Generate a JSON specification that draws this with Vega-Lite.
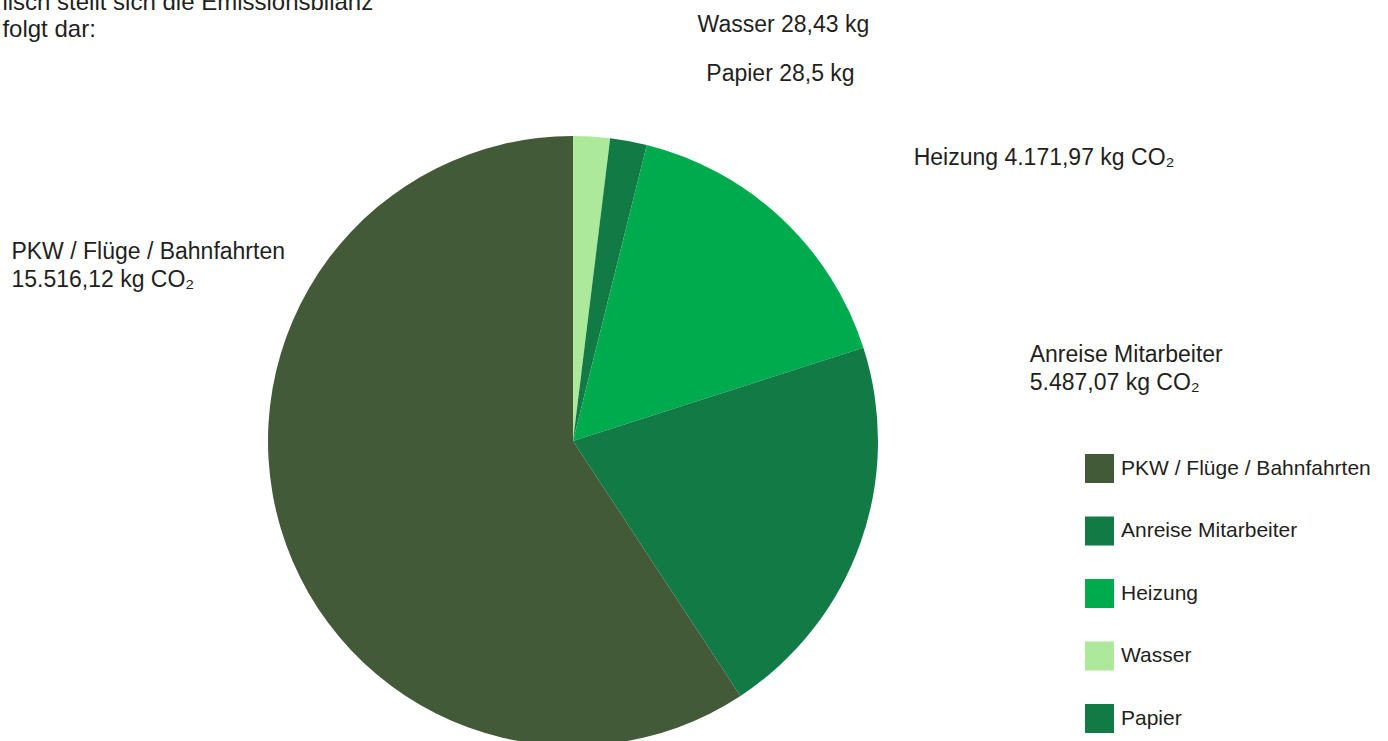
{
  "$schema": "https://vega.github.io/schema/vega-lite/v6.json",
  "width": 610,
  "height": 610,
  "autosize": {"type": "none"},
  "padding": {"left": 268, "top": 136, "right": 510, "bottom": 0},
  "background": "white",
  "config": {"view": {"stroke": null}, "font": "Liberation Sans"},
  "data": {
    "values": [
      {"category": "Wasser", "share": 7.0, "order": 1, "label": "Wasser 28,43 kg"},
      {"category": "Papier", "share": 7.0, "order": 2, "label": "Papier 28,5 kg"},
      {"category": "Heizung", "share": 58.2, "order": 3, "label": "Heizung 4.171,97 kg CO₂"},
      {"category": "Anreise Mitarbeiter", "share": 74.5, "order": 4, "label": "Anreise Mitarbeiter\n5.487,07 kg CO₂"},
      {"category": "PKW / Flüge / Bahnfahrten", "share": 213.3, "order": 5, "label": "PKW / Flüge / Bahnfahrten\n15.516,12 kg CO₂", "intro": "lisch stellt sich die Emissionsbilanz\nfolgt dar:"}
    ]
  },
  "encoding": {
    "theta": {"field": "share", "type": "quantitative", "stack": true},
    "order": {"field": "order", "type": "quantitative"}
  },
  "layer": [
    {
      "mark": {"type": "arc"},
      "encoding": {
        "color": {
          "field": "category",
          "type": "nominal",
          "scale": {
            "domain": ["PKW / Flüge / Bahnfahrten", "Anreise Mitarbeiter", "Heizung", "Wasser", "Papier"],
            "range": ["#435a38", "#127a44", "#00ab4e", "#ade99a", "#127a44"]
          },
          "legend": {
            "title": null,
            "orient": "none",
            "legendX": 817,
            "legendY": 318,
            "direction": "vertical",
            "symbolType": "square",
            "symbolSize": 841,
            "symbolStrokeWidth": 0,
            "symbolOpacity": 1,
            "labelFontSize": 21,
            "labelFont": "Liberation Sans",
            "labelColor": "#231f20",
            "labelOffset": 7,
            "labelLimit": 400,
            "rowPadding": 33.5
          }
        }
      }
    },
    {
      "mark": {"type": "text", "radius": 320, "align": "left", "baseline": "alphabetic", "dx": -264, "dy": -523, "fontSize": 24, "font": "Liberation Sans", "color": "#231f20", "lineBreak": "\n", "lineHeight": 27},
      "encoding": {"text": {"condition": {"test": "datum.category === 'PKW / Flüge / Bahnfahrten'", "field": "intro"}, "value": ""}}
    },
    {
      "mark": {"type": "text", "radius": 320, "align": "left", "baseline": "alphabetic", "dx": 105, "dy": -90, "fontSize": 23, "font": "Liberation Sans", "color": "#231f20", "lineBreak": "\n", "lineHeight": 28},
      "encoding": {"text": {"condition": {"test": "datum.category === 'Wasser'", "field": "label"}, "value": ""}}
    },
    {
      "mark": {"type": "text", "radius": 320, "align": "left", "baseline": "alphabetic", "dx": 75, "dy": -45, "fontSize": 23, "font": "Liberation Sans", "color": "#231f20", "lineBreak": "\n", "lineHeight": 28},
      "encoding": {"text": {"condition": {"test": "datum.category === 'Papier'", "field": "label"}, "value": ""}}
    },
    {
      "mark": {"type": "text", "radius": 320, "align": "left", "baseline": "alphabetic", "dx": 122, "dy": -42, "fontSize": 23, "font": "Liberation Sans", "color": "#231f20", "lineBreak": "\n", "lineHeight": 28},
      "encoding": {"text": {"condition": {"test": "datum.category === 'Heizung'", "field": "label"}, "value": ""}}
    },
    {
      "mark": {"type": "text", "radius": 320, "align": "left", "baseline": "alphabetic", "dx": 155, "dy": -186, "fontSize": 23, "font": "Liberation Sans", "color": "#231f20", "lineBreak": "\n", "lineHeight": 28},
      "encoding": {"text": {"condition": {"test": "datum.category === 'Anreise Mitarbeiter'", "field": "label"}, "value": ""}}
    },
    {
      "mark": {"type": "text", "radius": 320, "align": "left", "baseline": "alphabetic", "dx": -255, "dy": -274, "fontSize": 23, "font": "Liberation Sans", "color": "#231f20", "lineBreak": "\n", "lineHeight": 28},
      "encoding": {"text": {"condition": {"test": "datum.category === 'PKW / Flüge / Bahnfahrten'", "field": "label"}, "value": ""}}
    }
  ]
}
